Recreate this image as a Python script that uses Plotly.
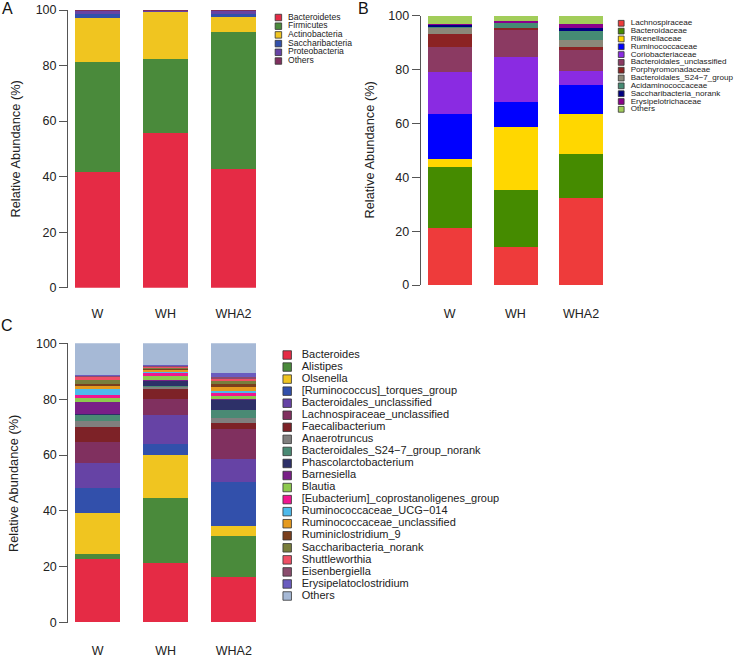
import plotly.graph_objects as go

W_PX, H_PX = 737, 661
FONT = "Liberation Sans, Arial, Helvetica, sans-serif"

samples = ["W", "WH", "WHA2"]
y_ticks = [0, 20, 40, 60, 80, 100]

# ---- Panel A : phylum ----
phylum_names = ["Bacteroidetes", "Firmicutes", "Actinobacteria",
                "Saccharibacteria", "Proteobacteria", "Others"]
phylum_W = [41.5, 39.9, 15.8, 1.5, 1.0, 0.3]
phylum_WH = [55.6, 26.9, 16.8, 0.1, 0.4, 0.2]
phylum_WHA2 = [42.7, 49.3, 5.6, 1.1, 1.0, 0.3]
phylum_colors = ["#E52B45", "#4A8A3B", "#F0C520", "#3250AB", "#6643A5", "#80305F"]

# ---- Panel B : family ----
family_names = ["Lachnospiraceae", "Bacteroidaceae", "Rikenellaceae",
                "Ruminococcaceae", "Coriobacteriaceae", "Bacteroidales_unclassified",
                "Porphyromonadaceae", "Bacteroidales_S24\u22127_group",
                "Acidaminococcaceae", "Saccharibacteria_norank",
                "Erysipelotrichaceae", "Others"]
family_W = [21.3, 22.8, 2.7, 16.7, 15.7, 9.3, 4.7, 2.5, 0.1, 1.2, 0.2, 2.8]
family_WH = [14.1, 21.2, 23.3, 9.5, 16.5, 10.1, 1.0, 0.0, 1.7, 0.2, 0.4, 2.0]
family_WHA2 = [32.4, 16.2, 14.9, 11.0, 5.0, 8.0, 0.9, 2.8, 3.2, 1.1, 1.4, 3.1]
family_colors = ["#EE3B3B", "#458B00", "#FFD700", "#0000FF", "#8A2BE2", "#8B3A62",
                 "#8B2323", "#8B8878", "#458B74", "#000080", "#8B008B", "#A2CD5A"]

# ---- Panel C : genus ----
genus_names = ["Bacteroides", "Alistipes", "Olsenella", "[Ruminococcus]_torques_group",
               "Bacteroidales_unclassified", "Lachnospiraceae_unclassified",
               "Faecalibacterium", "Anaerotruncus", "Bacteroidales_S24\u22127_group_norank",
               "Phascolarctobacterium", "Barnesiella", "Blautia",
               "[Eubacterium]_coprostanoligenes_group", "Ruminococcaceae_UCG\u2212014",
               "Ruminococcaceae_unclassified", "Ruminiclostridium_9",
               "Saccharibacteria_norank", "Shuttleworthia", "Eisenbergiella",
               "Erysipelatoclostridium", "Others"]
genus_W = [22.8, 1.8, 14.5, 8.9, 9.2, 7.2, 5.5, 2.2, 2.4, 0.1, 4.2, 1.4, 1.2, 2.1,
           1.2, 0.7, 1.2, 1.3, 0.3, 0.5, 11.3]
genus_WH = [21.2, 23.3, 15.5, 4.0, 10.2, 5.7, 3.6, 1.1, 0.1, 1.9, 0.1, 1.6, 1.2, 0.2,
            0.8, 0.5, 0.2, 0.4, 0.4, 0.3, 7.7]
genus_WHA2 = [16.2, 14.8, 3.6, 15.8, 8.1, 10.9, 1.8, 2.1, 2.8, 3.7, 0.2, 1.0, 1.2, 0.7,
              1.2, 1.3, 0.9, 0.8, 0.9, 1.2, 10.8]
genus_colors = ["#E52B45", "#4A8A3B", "#F0C520", "#3250AB", "#6643A5", "#80305F",
                "#7D2227", "#807F7E", "#4A8A74", "#2D3068", "#791F87", "#8DC94E",
                "#EF1690", "#4DBAEC", "#E59A1F", "#7A3F1D", "#797E3C", "#EF4F66",
                "#8A4C6D", "#6A5CBF", "#A6B9D6"]


def px_x(p):
    return p / W_PX


def px_y(p):
    return 1 - p / H_PX


fig = go.Figure()

AX_COLOR = "#555555"
TXT_COLOR = "#222222"

panels = [
    (phylum_names, [phylum_W, phylum_WH, phylum_WHA2], phylum_colors, "", 97.5, 68.0, 68.0, 270.0, 10.0, 287.7, 0.662, 14),
    (family_names, [family_W, family_WH, family_WHA2], family_colors, "2", 449.7, 65.7, 420.7, 610.0, 15.7, 285.0, 0.67, 17),
    (genus_names, [genus_W, genus_WH, genus_WHA2], genus_colors, "3", 97.6, 68.1, 68.3, 270.0, 343.3, 622.7, 0.665, 16),
]

layout_axes = {}
for names, vals, cols, sfx, x0, unit, left, right, top, bottom, bw, xlen in panels:
    xa = "x" + sfx
    ya = "y" + sfx
    for i, name in enumerate(names):
        fig.add_trace(go.Bar(
            x=[0, 1, 2], y=[v[i] for v in vals], name=name,
            marker=dict(color=cols[i], line=dict(width=0)),
            width=bw, xaxis=xa, yaxis=ya, showlegend=False,
        ))
    layout_axes["xaxis" + sfx] = dict(
        domain=[px_x(left), px_x(right)],
        range=[(left - x0) / unit, (right - x0) / unit],
        tickvals=[0, 1, 2], ticktext=samples, ticks="outside", ticklen=xlen,
        tickcolor="rgba(0,0,0,0)", showline=False, showgrid=False, zeroline=False,
        anchor=ya, automargin=False,
        tickfont=dict(size=12.5, color=TXT_COLOR, family=FONT),
    )
    layout_axes["yaxis" + sfx] = dict(
        domain=[px_y(bottom), px_y(top)], range=[0, 100],
        tickvals=y_ticks, ticks="outside", ticklen=8, tickwidth=1,
        tickcolor=AX_COLOR, showline=True, linecolor=AX_COLOR, linewidth=1,
        showgrid=False, zeroline=False, anchor=xa, automargin=False,
        tickfont=dict(size=12.5, color=TXT_COLOR, family=FONT),
    )

# ---- custom legends drawn on hidden axes ----
legends = [
    (phylum_names, phylum_colors, "4", 278.4, 17.5, 8.7, 6.5, 9.6, 8.6),
    (family_names, family_colors, "5", 621.2, 23.3, 7.82, 5.8, 9.5, 8.1),
    (genus_names, genus_colors, "6", 287.2, 355.0, 12.05, 8.5, 14.5, 11),
]
for names, cols, sfx, cx, first, step, msize, tx, fsize in legends:
    n = len(names)
    idx = list(range(n))
    fig.add_trace(go.Scatter(
        x=[0] * n, y=idx, mode="markers",
        marker=dict(symbol="square", size=msize, color=cols,
                    line=dict(color="#333333", width=0.8)),
        xaxis="x" + sfx, yaxis="y" + sfx, showlegend=False, hoverinfo="skip",
        cliponaxis=False,
    ))
    fig.add_trace(go.Scatter(
        x=[tx] * n, y=idx, mode="text", text=names, textposition="middle right",
        textfont=dict(size=fsize, color=TXT_COLOR, family=FONT),
        xaxis="x" + sfx, yaxis="y" + sfx, showlegend=False, hoverinfo="skip",
        cliponaxis=False,
    ))
    layout_axes["xaxis" + sfx] = dict(
        domain=[px_x(cx), px_x(cx + 100)], range=[0, 100], visible=False,
        anchor="y" + sfx, fixedrange=True, automargin=False,
    )
    layout_axes["yaxis" + sfx] = dict(
        domain=[px_y(first + (n - 0.5) * step), px_y(first - 0.5 * step)],
        range=[n - 0.5, -0.5], visible=False, anchor="x" + sfx, fixedrange=True,
        automargin=False,
    )

annotations = []
for label, cx, cy in [("A", 7, 8), ("B", 363, 8), ("C", 7, 326)]:
    annotations.append(dict(
        text=label, x=px_x(cx), y=px_y(cy), xref="paper", yref="paper",
        xanchor="center", yanchor="middle", showarrow=False,
        font=dict(size=16, color="#111111", family=FONT),
    ))
for cx, cy in [(14.5, 149), (368.5, 150), (13, 484)]:
    annotations.append(dict(
        text="Relative Abundance (%)", x=px_x(cx), y=px_y(cy),
        xref="paper", yref="paper", xanchor="center", yanchor="middle",
        textangle=-90, showarrow=False,
        font=dict(size=12.8, color=TXT_COLOR, family=FONT),
    ))

fig.update_layout(
    template="none",
    width=W_PX, height=H_PX,
    margin=dict(l=0, r=0, t=0, b=0, autoexpand=False),
    paper_bgcolor="white", plot_bgcolor="white", barmode="stack",
    bargap=0, showlegend=False, annotations=annotations,
    font=dict(family=FONT, color=TXT_COLOR),
    **layout_axes,
)

# remove the browser's default 8 px body margin so the figure fills the window
fig.write_html("out.html", config={"displayModeBar": False},
               post_script="document.body.style.margin='0px';")
